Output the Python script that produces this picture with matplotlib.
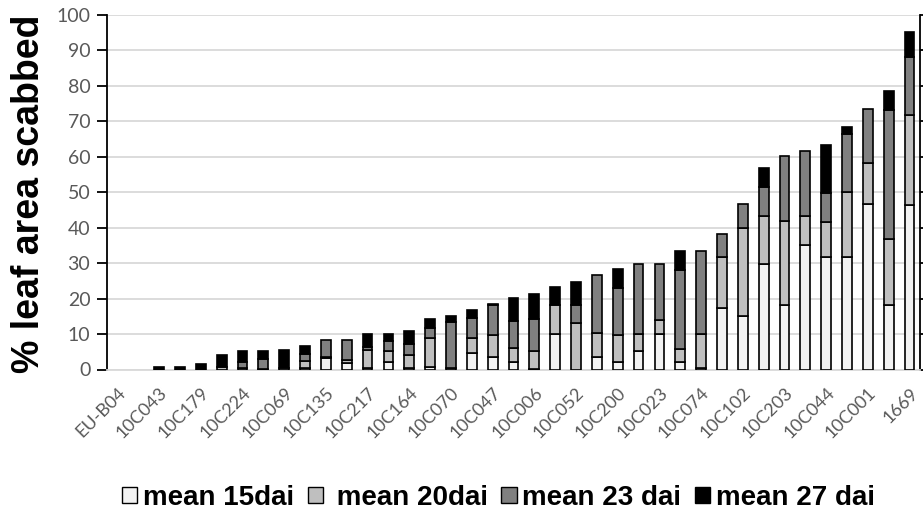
import numpy as np
import matplotlib
matplotlib.use("Agg")
import matplotlib.pyplot as plt
from matplotlib.patches import Patch

# Tick labels shown on every other bar (39 bars in total)
labels = ["EU-B04", "10C043", "10C179", "10C224", "10C069", "10C135", "10C217",
          "10C164", "10C070", "10C047", "10C006", "10C052", "10C200", "10C023",
          "10C074", "10C102", "10C203", "10C044", "10C001", "1669"]

# % leaf area scabbed, stacked per assessment date
mean15 = [0, 0, 0, 0, 0, 0, 0, 0, 0, 0.5, 3.3, 1.9, 0.4, 2.0, 0.5, 0.8, 0, 4.7, 3.4, 2.2,
          0.2, 10.0, 0, 3.6, 2.2, 5.3, 9.9, 2.2, 0.3, 17.4, 15.0, 29.9, 18.3, 35.0, 31.6,
          31.6, 46.7, 18.3, 46.5]
mean20 = [0, 0, 0, 0, 0, 0.6, 0.5, 0.2, 0.4, 2.0, 0.3, 0.9, 5.0, 3.2, 3.6, 8.0, 0.3, 4.3,
          6.2, 3.8, 5.0, 8.1, 13.2, 6.8, 7.6, 4.7, 4.2, 3.5, 9.7, 14.3, 25.0, 13.4, 23.5,
          8.3, 10.1, 18.4, 11.6, 18.4, 25.2]
mean23 = [0, 0, 0, 0, 0, 0, 1.6, 2.8, 0, 1.9, 4.7, 5.5, 1.0, 2.9, 3.1, 2.8, 13.2, 5.6, 8.6,
          7.7, 9.1, 0, 4.9, 16.2, 13.3, 19.9, 15.8, 22.3, 23.4, 6.6, 6.8, 8.2, 18.3, 18.3,
          8.2, 16.5, 15.1, 36.5, 16.5]
mean27 = [0, 0, 0.7, 0.7, 1.6, 3.5, 3.0, 2.1, 5.0, 2.2, 0, 0, 3.7, 2.0, 3.7, 2.6, 1.6, 2.1,
          0.2, 6.4, 7.1, 5.3, 6.7, 0, 5.2, 0, 0, 5.4, 0, 0, 0, 5.2, 0, 0, 13.5, 2.0, 0,
          5.3, 6.9]

series = [(mean15, "#f2f2f2", "mean 15dai"),
          (mean20, "#bfbfbf", " mean 20dai"),
          (mean23, "#808080", "mean 23 dai"),
          (mean27, "#000000", "mean 27 dai")]

fig = plt.figure(figsize=(9.23, 5.23), dpi=100)
ax = fig.add_axes([107 / 923, 153.5 / 523, 813 / 923, 354.5 / 523])

x = np.arange(len(mean15))
bottom = np.zeros(len(x))
handles = []
for vals, col, lab in series:
    v = np.array(vals, dtype=float)
    lw = np.where(v > 0, 1.2, 0.0)
    ax.bar(x, v, 0.47, bottom=bottom, color=col, edgecolor="black",
           linewidth=lw, zorder=3)
    handles.append(Patch(facecolor=col, edgecolor="black", linewidth=1.0, label=lab))
    bottom += v

ax.set_xlim(-0.5, len(x) - 0.5)
ax.set_ylim(0, 100)
ax.set_yticks(np.arange(0, 101, 10))
ax.grid(axis="y", color="#d9d9d9", linewidth=1.3, zorder=0)

ax.set_xticks(x[::2])
ax.set_xticklabels(labels, rotation=45, ha="right", rotation_mode="anchor",
                   fontsize=13, color="#595959", family="Lato")
ax.tick_params(axis="x", length=0, pad=11)
ax.tick_params(axis="y", direction="out", length=7, width=1.3, colors="black",
               right=True, labelsize=14, pad=5)
for t in ax.get_yticklabels():
    t.set_color("#595959")
    t.set_family("Lato")

ax.spines["top"].set_visible(False)
ax.spines["bottom"].set_color("#d9d9d9")
ax.spines["bottom"].set_linewidth(1.3)
ax.spines["left"].set_linewidth(1.3)
ax.spines["right"].set_linewidth(1.3)

fig.text(29 / 923, 1 - 194 / 523, "% leaf area scabbed", rotation=90, ha="center",
         va="center", fontsize=27, fontweight="bold", family="Liberation Sans")

fig.legend(handles=handles, loc="center", bbox_to_anchor=(0.54, 0.048), ncol=4,
           frameon=False, handlelength=0.55, handleheight=0.55, handletextpad=0.2,
           columnspacing=0.5, borderaxespad=0,
           prop={"family": "Liberation Sans", "weight": "bold", "size": 20})

fig.savefig("out.png", dpi=100)
